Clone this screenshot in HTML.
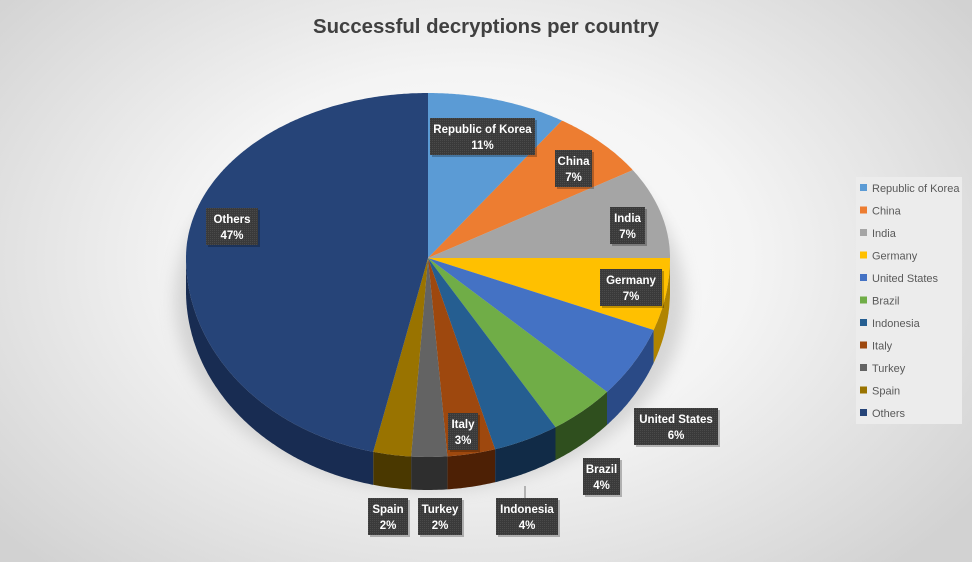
<!DOCTYPE html>
<html><head><meta charset="utf-8"><style>
html,body{margin:0;padding:0;}
body{width:972px;height:562px;overflow:hidden;background:radial-gradient(ellipse 620px 420px at 470px 260px,#ffffff 0%,#f4f4f4 45%,#d2d2d2 100%);font-family:"Liberation Sans",sans-serif;}
svg{position:absolute;left:0;top:0;}
</style></head><body>
<svg id="s" width="972" height="562" xmlns="http://www.w3.org/2000/svg">
<defs>
<filter id="bl" x="-20%" y="-20%" width="140%" height="140%"><feGaussianBlur stdDeviation="8"/></filter>
<pattern id="pt" width="2" height="2" patternUnits="userSpaceOnUse"><rect width="2" height="2" fill="#3a3a3a"/><rect width="1" height="1" fill="#4a4a4a"/></pattern>
</defs>
<text x="486" y="33" text-anchor="middle" font-size="20" font-weight="bold" fill="#404040" textLength="346" lengthAdjust="spacingAndGlyphs">Successful decryptions per country</text>
<ellipse cx="430" cy="300" rx="255" ry="190" fill="#9a9a9a" opacity="0.35" filter="url(#bl)"/>
<g id="pie"></g>
<g id="labels"></g>
<rect x="856" y="177" width="106" height="247" fill="#ececec"/>
<g id="leg" font-size="11" fill="#595959"></g>
</svg>
<script>
var d=[["Republic of Korea",11,"#5B9BD5","#3c6f9e"],["China",7,"#ED7D31","#a9541c"],["India",7,"#A5A5A5","#707070"],["Germany",7,"#FFC000","#b08400"],["United States",6,"#4472C4","#2a4a86"],["Brazil",4,"#70AD47","#2f4f1e"],["Indonesia",4,"#255E91","#112b47"],["Italy",3,"#9E480E","#4d2005"],["Turkey",2,"#636363","#2e2e2e"],["Spain",2,"#997300","#4a3800"],["Others",47,"#264478","#182c52"]];
var cx=428,cy=258,rx=242,dep=33;
var W=[[0,0],[39.6,-6],[64.8,-7],[90,0],[115.2,-4],[136.8,-4.5],[151.2,-3],[165.6,-1.7],[176.4,-1],[183.6,0.4],[190.8,2.3],[230,2],[270,0],[360,0]];
function warp(t){for(var i=0;i<W.length-1;i++){if(t>=W[i][0]&&t<=W[i+1][0]){var u=(t-W[i][0])/(W[i+1][0]-W[i][0]);return t+W[i][1]+u*(W[i+1][1]-W[i][1]);}}return t;}
function P(t,off){t=warp(t);var r=t*Math.PI/180,c=Math.cos(r);var ry=c>0?165:199;return [cx+rx*Math.sin(r),cy-ry*c+(off||0)];}
function f(p){return p[0].toFixed(1)+","+p[1].toFixed(1);}
var pie=document.getElementById("pie"),ns="http://www.w3.org/2000/svg";
function add(par,tag,at,txt){var e=document.createElementNS(ns,tag);for(var k in at)e.setAttribute(k,at[k]);if(txt)e.textContent=txt;par.appendChild(e);return e;}
var a=0,sl=[];d.forEach(function(s){var b=a+s[1]*3.6;sl.push([a,b,s]);a=b;});
sl.forEach(function(q){var s=Math.max(q[0],90),e=Math.min(q[1],270);if(e<=s)return;var pts=[];for(var t=s;t<=e;t+=0.5)pts.push(f(P(t)));pts.push(f(P(e)));var bp=[];for(var t=e;t>=s;t-=0.5)bp.push(f(P(t,dep)));bp.push(f(P(s,dep)));add(pie,"path",{d:"M"+pts.join("L")+"L"+bp.join("L")+"Z",fill:q[2][3]});});
sl.forEach(function(q){var pts=[];for(var t=q[0];t<q[1];t+=0.5)pts.push(f(P(t)));pts.push(f(P(q[1])));add(pie,"path",{d:"M"+cx+","+cy+"L"+pts.join("L")+"Z",fill:q[2][2]});});
var L=document.getElementById("labels");
add(L,"line",{x1:525,y1:486,x2:525,y2:498,stroke:"#777","stroke-width":1});
[["Republic of Korea","11%",430,118,105],["China","7%",555,150,37],["India","7%",610,207,35],["Germany","7%",600,269,62],["United States","6%",634,408,84],["Brazil","4%",583,458,37],["Indonesia","4%",496,498,62],["Italy","3%",448,413,30],["Turkey","2%",418,498,44],["Spain","2%",368,498,40],["Others","47%",206,208,52]].forEach(function(l){
add(L,"rect",{x:l[2]+2,y:l[3]+2,width:l[4],height:37,fill:"#000",opacity:0.25});
add(L,"rect",{x:l[2],y:l[3],width:l[4],height:37,fill:"url(#pt)"});
var m=l[2]+l[4]/2;
add(L,"text",{x:m,y:l[3]+15,"text-anchor":"middle","font-size":"11.5","font-weight":"bold",fill:"#fff"},l[0]);
add(L,"text",{x:m,y:l[3]+31,"text-anchor":"middle","font-size":"11.5","font-weight":"bold",fill:"#fff"},l[1]);
});
var G=document.getElementById("leg");
d.forEach(function(s,i){var y=188+i*22.5;add(G,"rect",{x:860,y:y-4,width:7,height:7,fill:s[2]});add(G,"text",{x:872,y:y+4},s[0]);});
</script>
</body></html>
